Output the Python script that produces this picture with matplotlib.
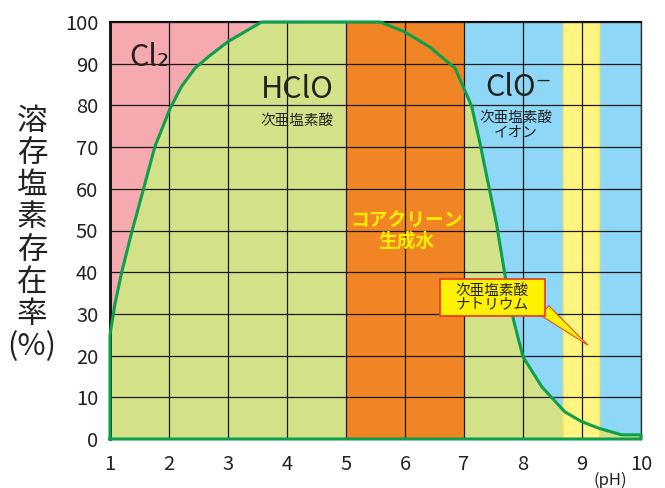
import matplotlib as mpl
mpl.use('Agg')
import matplotlib.pyplot as plt
from matplotlib.patches import Rectangle

plt.rcParams['font.family'] = ['Noto Sans CJK JP', 'DejaVu Sans']

# HClO fraction curve
ph = [1.0, 1.085, 1.2, 1.37, 1.54, 1.76, 2.02, 2.21, 2.44, 2.67, 3.0, 3.57,
      5.58, 6.0, 6.42, 6.85, 7.13, 7.27, 7.41, 7.55, 7.69, 7.84, 8.0,
      8.32, 8.71, 8.99, 9.28, 9.67, 10.0]
hclo = [25, 32.4, 40.1, 49.7, 58.5, 70.1, 79.3, 84.5, 88.9, 91.7, 95.3, 100,
        100, 97.6, 94, 88.9, 79.8, 71, 61.3, 51.7, 39.7, 28.5, 19.7,
        12.5, 6.5, 4.2, 2.6, 1.0, 1.0]

# zone boundaries (pH)
cl2_zone = (1, 7)
clo_zone = (7, 10)
water_zone = (5, 7)
naclo_zone = (8.68, 9.29)

xticks = list(range(1, 11))
yticks = list(range(0, 101, 10))

# callout: box (pH, %) and pointer
box_x = (6.59, 8.37)
box_y = (29.5, 38.4)
pointer_from = (8.37, 30.8)
pointer_to = (9.10, 22.5)

pink = '#F6A9AE'
lgreen = '#D3E289'
orange = '#F18526'
blue = '#8ED7F6'
yellow = '#FFF580'
curve_c = '#0E9F4A'
ink = '#222222'

fig = plt.figure(figsize=(6.65, 4.88), dpi=100)
ax = fig.add_axes([110/665, 1-439/488, 531/665, 417/488])

ax.axvspan(*cl2_zone, color=pink, lw=0, zorder=0.5)
ax.axvspan(*clo_zone, color=blue, lw=0, zorder=0.5)
ax.fill_between(ph, 0, hclo, color=lgreen, lw=0, zorder=0.8)
ax.axvspan(*water_zone, color=orange, lw=0, zorder=1)
ax.axvspan(*naclo_zone, fc=yellow, ec='#FFE45C', lw=1, zorder=1)

# closed outline of the HClO area
line_x = [ph[0]] + ph + [ph[-1], ph[0]]
line_y = [0] + hclo + [0, 0]
ax.plot(line_x, line_y, color=curve_c, lw=2.2, zorder=3, clip_on=False,
        solid_joinstyle='round')

ax.set_xlim(1, 10)
ax.set_ylim(0, 100)
ax.set_xticks(xticks)
ax.set_yticks(yticks)
ax.grid(True, color='#1a1a1a', lw=0.9)
ax.set_axisbelow(False)
ax.tick_params(length=0, labelsize=14.5, colors=ink)
ax.tick_params(axis='x', pad=11)
ax.tick_params(axis='y', pad=8.5)

ax.spines['left'].set_linewidth(2)
ax.spines['top'].set_linewidth(1.5)
ax.spines['right'].set_linewidth(1)
ax.spines['right'].set_color('#333333')
ax.spines['bottom'].set_visible(False)

# zone labels
ax.text(1.33, 91.5, 'Cl₂', fontsize=22, va='center', ha='left', color=ink)
ax.text(4.17, 83.9, 'HClO', fontsize=22, va='center', ha='center', color=ink)
ax.text(4.17, 76.3, '次亜塩素酸', fontsize=10.5, va='center', ha='center', color=ink)
ax.text(7.92, 84.4, 'ClO⁻', fontsize=22, va='center', ha='center', color=ink)
ax.text(7.88, 75.2, '次亜塩素酸\nイオン', fontsize=10.5, va='center', ha='center',
        color=ink, linespacing=1.0)
ax.text(6.02, 50, 'コアクリーン\n生成水', fontsize=13.5, fontweight='bold',
        va='center', ha='center', color='#FFF000', linespacing=1.1, zorder=4)

# sodium hypochlorite callout
ax.annotate('', xy=pointer_to, xytext=pointer_from,
            arrowprops=dict(arrowstyle='wedge,tail_width=0.9', fc='#FFF200',
                            ec='#E83828', lw=0.7, shrinkA=0, shrinkB=0),
            zorder=4)
ax.add_patch(Rectangle((box_x[0], box_y[0]), box_x[1]-box_x[0], box_y[1]-box_y[0],
                       fc='#FFF200', ec='#E83828', lw=1.2, zorder=5))
ax.text(6.85, 33.9, '次亜塩素酸\nナトリウム', fontsize=10.5, va='center', ha='left',
        linespacing=1.0, color=ink, zorder=6)

fig.text(32/665, 1-234/488, '溶\n存\n塩\n素\n存\n在\n率\n(%)', fontsize=22,
         ha='center', va='center', linespacing=1.05, color=ink)
fig.text(610/665, 1-480/488, '(pH)', fontsize=12, ha='center', va='center',
         color=ink)

fig.savefig('out.png', dpi=100)
